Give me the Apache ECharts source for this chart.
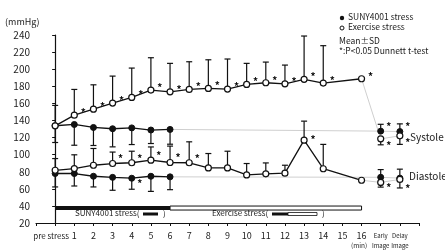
<!DOCTYPE html>
<html>
<head>
<meta charset="utf-8">
<script src="https://cdn.jsdelivr.net/npm/echarts@6/dist/echarts.min.js"></script>
<style>
  html, body { margin: 0; background: #fff; }
  #chart { width: 445px; height: 251px; }
</style>
</head>
<body>
<div id="chart"></div>
<script>
// x positions: 0 = pre stress, 1..16 = minutes, 17 = Early Image, 18 = Delay Image
const xLabels = ['pre stress', '1', '2', '3', '4', '5', '6', '7', '8', '9', '10', '11', '12', '13', '14', '15', '16', 'Early Image', 'Delay Image'];
const yTicks = { min: 20, max: 240, step: 20 };

// Exercise stress (open circles), index = x position, null = no measurement
const exSys   = [133.7, 146.2, 153.2, 160.3, 167, 175.5, 173.5, 176.3, 177.5, 176.7, 182.2, 184.1, 182.9, 188.1, 183.7, null, 188.8];
const exSysHi = [157.6, 176.3, 181.7, 191.9, 201.3, 213.4, 206.8, 208.7, 211, 211.9, 206.8, 208.3, 204.8, 238.8, 227.5, null, null];
const exDia   = [81.7, 83.7, 87.6, 89.6, 90.5, 93.5, 90.8, 90.5, 84.5, 84.5, 76.3, 77.5, 78.3, 116.9, 83.5, null, 70];
const exDiaHi = [95.4, 99.8, 107.2, 103, 104, 109, 110, 115, 101.3, 104, 89.6, 90.3, 87.6, 139.2, 112, null, null];

// SUNY4001 stress (filled circles)
const sunySys   = [133.8, 135.3, 131.8, 130.3, 131.3, 128.8, 129.5];
const sunySysLo = [114.2, 111, 110.7, 109.1, 111.8, 113, 112.2];
const sunyDia   = [77.9, 77.9, 74.7, 73.4, 72.4, 74.7, 74];
const sunyDiaLo = [62.2, 63.3, 62.2, 58.3, 59.5, 57, 59];

// Early / Delay image
const imgX        = [17, 18];
const imgSunySys  = [127.5, 127];
const imgSunySysHi = [135.5, 136];
const imgExSys    = [118.5, 122];
const imgExSysLo  = [111.5, 112];
const imgSunyDia  = [73.5, 72.5];
const imgSunyDiaHi = [82.5, 83];
const imgExDia    = [67.5, 71];
const imgExDiaLo  = [62, 61];

// significance marks (x positions)
const exSysSig = [1, 2, 3, 4, 5, 6, 7, 8, 9, 10, 11, 12, 13, 14, 16];
const exDiaSig = [3, 4, 5, 6, 7];
const exDiaSig2 = [13];
const sunyDiaSig = [4];

// stress periods
const sunyPeriod = [0, 6];
const exPeriod = [6, 16];

const INK = '#111';
const FONT = '"Noto Sans CJK JP", "Noto Sans", sans-serif';

function pairs(vals) {
  const out = [];
  vals.forEach((v, i) => { if (v != null) out.push([i, v]); });
  return out;
}
function bars(vals, ends) {
  const out = [];
  vals.forEach((v, i) => { if (v != null && ends[i] != null) out.push([i, v, ends[i]]); });
  return out;
}
function imgBars(vals, ends) {
  return imgX.map((x, i) => [x, vals[i], ends[i]]);
}

function errRender(params, api) {
  const x = api.value(0);
  const p1 = api.coord([x, api.value(1)]);
  const p2 = api.coord([x, api.value(2)]);
  const st = { stroke: INK, lineWidth: 1.2 };
  return {
    type: 'group',
    children: [
      { type: 'line', shape: { x1: p1[0], y1: p1[1], x2: p2[0], y2: p2[1] }, style: st },
      { type: 'line', shape: { x1: p2[0] - 3, y1: p2[1], x2: p2[0] + 3, y2: p2[1] }, style: st }
    ]
  };
}
function astRender(dx, dy) {
  return function (params, api) {
    const p = api.coord([api.value(0), api.value(1)]);
    return {
      type: 'text',
      style: { text: '*', x: p[0] + dx, y: p[1] + dy, fill: INK, font: 'bold 10px ' + FONT, textAlign: 'center', textVerticalAlign: 'middle' }
    };
  };
}
function periodRender(filled) {
  return function (params, api) {
    const a = api.coord([api.value(0), 37.5]);
    const b = api.coord([api.value(1), 37.5]);
    return {
      type: 'rect',
      shape: { x: a[0], y: a[1] - 2, width: b[0] - a[0], height: 4 },
      style: filled ? { fill: INK } : { fill: '#fff', stroke: INK, lineWidth: 1 }
    };
  };
}
function errSeries(data) {
  return { type: 'custom', renderItem: errRender, data: data, z: 2, silent: true };
}
function astSeries(idx, vals, dx, dy) {
  return { type: 'custom', renderItem: astRender(dx, dy), data: idx.map(i => [i, vals[i]]), z: 5, silent: true };
}
function grayLine(data) {
  return { type: 'line', data: data, symbol: 'none', z: 1, lineStyle: { color: '#cfcfcf', width: 1 }, silent: true };
}
const openPt = { color: '#fff', borderColor: INK, borderWidth: 1.2, opacity: 1 };
const fillPt = { color: INK, borderColor: INK, borderWidth: 1, opacity: 1 };
function lineSeries(data, item) {
  return { type: 'line', data: data, symbol: 'circle', symbolSize: 6, z: 3, itemStyle: item, lineStyle: { color: INK, width: 1.3 }, silent: true };
}
function pts(vals, item) {
  return { type: 'scatter', data: imgX.map((x, i) => [x, vals[i]]), symbol: 'circle', symbolSize: 6, z: 4, itemStyle: item, silent: true };
}

const chart = echarts.init(document.getElementById('chart'));
chart.setOption({
  animation: false,
  textStyle: { fontFamily: FONT },
  grid: { left: 36, right: 26, top: 35, bottom: 28 },
  xAxis: {
    type: 'value', min: -1, max: 19, interval: 1,
    axisLine: { lineStyle: { color: INK, width: 1.2 } },
    axisTick: { length: 3, lineStyle: { color: INK } },
    splitLine: { show: false },
    axisLabel: {
      margin: 8, color: '#222', fontSize: 9, fontFamily: FONT, verticalAlign: 'top',
      formatter: function (v) {
        const i = Math.round(v);
        if (i < 0 || i >= xLabels.length) return '';
        if (i === 0) return '{p|' + xLabels[0] + '}';
        if (i >= 17) return xLabels[i].split(' ').map(s => '{s|' + s + '}').join('\n');
        return xLabels[i];
      },
      rich: {
        p: { fontSize: 8, padding: [1, 8, 0, 0], color: '#222', fontFamily: FONT },
        s: { fontSize: 6, lineHeight: 10, color: '#222', fontFamily: FONT }
      }
    }
  },
  yAxis: {
    type: 'value', min: yTicks.min, max: yTicks.max, interval: yTicks.step,
    axisLine: { show: true, lineStyle: { color: INK, width: 1.2 } },
    axisTick: { show: true, length: 3, lineStyle: { color: INK } },
    splitLine: { show: false },
    axisLabel: { margin: 6, color: '#222', fontSize: 10, fontFamily: FONT }
  },
  series: [
    // faint connectors to the image points
    grayLine([[6, sunySys[6]], [17, imgSunySys[0]], [18, imgSunySys[1]]]),
    grayLine([[16, exSys[16]], [17, imgExSys[0]], [18, imgExSys[1]]]),
    grayLine([[6, sunyDia[6]], [17, imgSunyDia[0]], [18, imgSunyDia[1]]]),
    grayLine([[16, exDia[16]], [17, imgExDia[0]], [18, imgExDia[1]]]),

    // error bars
    errSeries(bars(exSys, exSysHi)),
    errSeries(bars(exDia, exDiaHi)),
    errSeries(bars(sunySys, sunySysLo)),
    errSeries(bars(sunyDia, sunyDiaLo)),
    errSeries(imgBars(imgSunySys, imgSunySysHi)),
    errSeries(imgBars(imgExSys, imgExSysLo)),
    errSeries(imgBars(imgSunyDia, imgSunyDiaHi)),
    errSeries(imgBars(imgExDia, imgExDiaLo)),

    // lines with markers
    lineSeries(pairs(sunySys), fillPt),
    lineSeries(pairs(sunyDia), fillPt),
    lineSeries(pairs(exSys), openPt),
    lineSeries(pairs(exDia), openPt),

    pts(imgSunySys, fillPt),
    pts(imgExSys, openPt),
    pts(imgSunyDia, fillPt),
    pts(imgExDia, openPt),

    // significance asterisks
    astSeries(exSysSig, exSys, 9, -3),
    astSeries(exDiaSig, exDia, 8, -5),
    astSeries(exDiaSig2, exDia, 9, -1),
    astSeries(sunyDiaSig, sunyDia, 8, 5),
    { type: 'custom', renderItem: astRender(8, 2), data: imgX.map((x, i) => [x, imgSunySysHi[i]]), z: 5, silent: true },
    { type: 'custom', renderItem: astRender(8, 6), data: imgX.map((x, i) => [x, imgExSys[i]]), z: 5, silent: true },
    { type: 'custom', renderItem: astRender(8, 0), data: imgX.map((x, i) => [x, imgExDiaLo[i]]), z: 5, silent: true },

    // stress period bars
    { type: 'custom', renderItem: periodRender(true), data: [sunyPeriod], z: 2, silent: true },
    { type: 'custom', renderItem: periodRender(false), data: [exPeriod], z: 2, silent: true }
  ],
  graphic: [
    { type: 'text', left: 5, top: 17, style: { text: '(mmHg)', font: '9px ' + FONT, fill: '#222' } },
    { type: 'circle', shape: { cx: 342, cy: 18, r: 2.2 }, style: { fill: INK } },
    { type: 'text', left: 348, top: 13, style: { text: 'SUNY4001 stress', font: '8.5px ' + FONT, fill: '#222' } },
    { type: 'circle', shape: { cx: 342, cy: 28, r: 2 }, style: { fill: '#fff', stroke: INK, lineWidth: 1 } },
    { type: 'text', left: 348, top: 23, style: { text: 'Exercise stress', font: '8.5px ' + FONT, fill: '#222' } },
    { type: 'text', left: 339, top: 37, style: { text: 'Mean±SD', font: '8.5px ' + FONT, fill: '#222' } },
    { type: 'text', left: 339, top: 47, style: { text: '*:P<0.05 Dunnett t-test', font: '8.5px ' + FONT, fill: '#222' } },
    { type: 'text', left: 410, top: 132, style: { text: 'Systole', font: '10px ' + FONT, fill: '#222' } },
    { type: 'text', left: 409, top: 171, style: { text: 'Diastole', font: '10px ' + FONT, fill: '#222' } },
    { type: 'text', left: 75, top: 209, style: { text: 'SUNY4001 stress(', font: '8px ' + FONT, fill: '#222' } },
    { type: 'rect', shape: { x: 143, y: 212.5, width: 15, height: 3 }, style: { fill: INK } },
    { type: 'text', left: 163, top: 209, style: { text: ')', font: '8px ' + FONT, fill: '#222' } },
    { type: 'text', left: 212, top: 209, style: { text: 'Exercise stress(', font: '8px ' + FONT, fill: '#222' } },
    { type: 'rect', shape: { x: 272, y: 212.5, width: 16, height: 3 }, style: { fill: INK } },
    { type: 'rect', shape: { x: 288, y: 212.5, width: 29, height: 3 }, style: { fill: '#fff', stroke: INK, lineWidth: 0.8 } },
    { type: 'text', left: 322, top: 209, style: { text: ')', font: '8px ' + FONT, fill: '#222' } },
    { type: 'text', left: 351, top: 242, style: { text: '(min)', font: '6.5px ' + FONT, fill: '#222' } }
  ]
});
</script>
</body>
</html>
